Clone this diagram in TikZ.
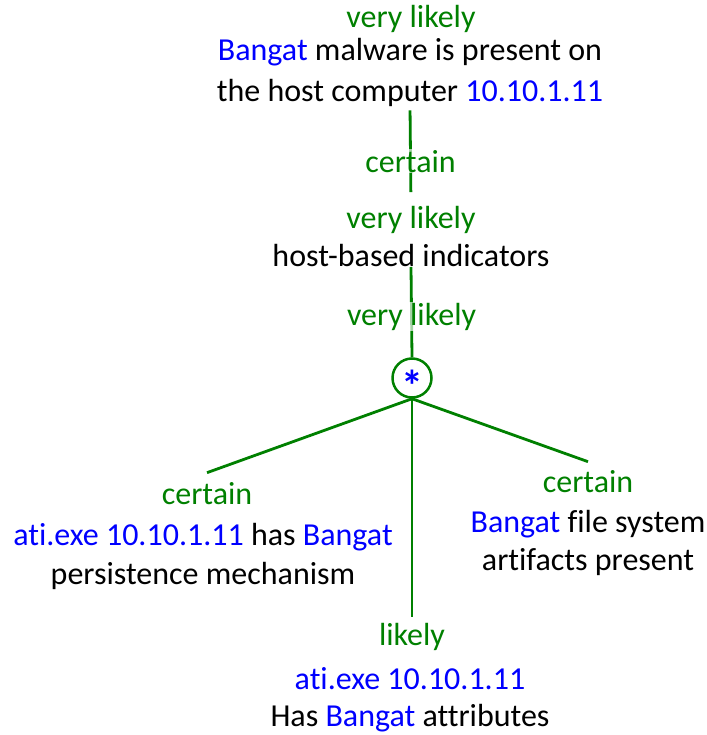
\documentclass[tikz,border=0pt]{standalone}
\usepackage{fontspec}
\setmainfont{Carlito}[Ligatures=NoCommon]
\definecolor{probgreen}{RGB}{0,128,0}
\definecolor{entblue}{RGB}{0,0,255}
\newcommand\ent[1]{\textcolor{entblue}{#1}}
\tikzset{
  claim/.style={font=\fontsize{32}{41}\selectfont, align=center, inner sep=0pt, text=black},
  prob/.style={font=\fontsize{32}{41}\selectfont, text=probgreen, inner sep=0pt},
  link/.style={draw=probgreen, line width=2.8pt},
  linklabel/.style={prob, fill=white, fill opacity=0.65, text opacity=1, inner sep=1pt},
  andnode/.style={circle, draw=probgreen, line width=2.5pt, minimum size=39pt, inner sep=0pt}
}
\begin{document}
\begin{tikzpicture}[x=1pt, y=-1pt]
  \useasboundingbox (0,0) rectangle (706,735);

  % goal claim
  \node[prob] (goalp) at (411,19) {very likely};
  \node[claim] (goal) at (410,72) {\ent{Bangat} malware is present on\\the host computer \ent{10.10.1.11}};

  % intermediate claim
  \node[prob] (hostp) at (411,220) {very likely};
  \node[claim] (host) at (411,256) {host-based indicators};

  % conjunction
  \node[andnode] (and) at (412,378) {};
  \node[text=entblue, font=\fontsize{44}{44}\selectfont\bfseries, inner sep=0pt]
    (star) at ([yshift=-8pt]and.center) {*};

  % leaves
  \node[prob] (leftp) at (207,494) {certain};
  \node[claim, font=\fontsize{32}{39}\selectfont] (left) at (203,556) {\ent{ati.exe 10.10.1.11} has \ent{Bangat}\\persistence mechanism};

  \node[prob] (rightp) at (588,482) {certain};
  \node[claim, font=\fontsize{32}{38}\selectfont] (right) at (588,543) {\ent{Bangat} file system\\artifacts present};

  \node[prob] (midp) at (412,637) {likely};
  \node[claim, font=\fontsize{32}{37}\selectfont] (mid) at (410,700) {\ent{ati.exe 10.10.1.11}\\Has \ent{Bangat} attributes};

  % connectors
  \draw[link, shorten <=4pt, shorten >=14pt] (goal.south) -- (hostp.north)
    node[linklabel, pos=0.55] (e1) {certain};
  \draw[link] (and.north) -- (host.base)
    node[linklabel, pos=0.45] (e2) {very likely};
  \draw[link] (and.south) -- ([yshift=10pt]leftp.north);
  \draw[link] (and.south) -- ([yshift=9pt]rightp.north);
  \draw[link, shorten >=6pt] (and.south) -- (midp.north);
\end{tikzpicture}
\end{document}
